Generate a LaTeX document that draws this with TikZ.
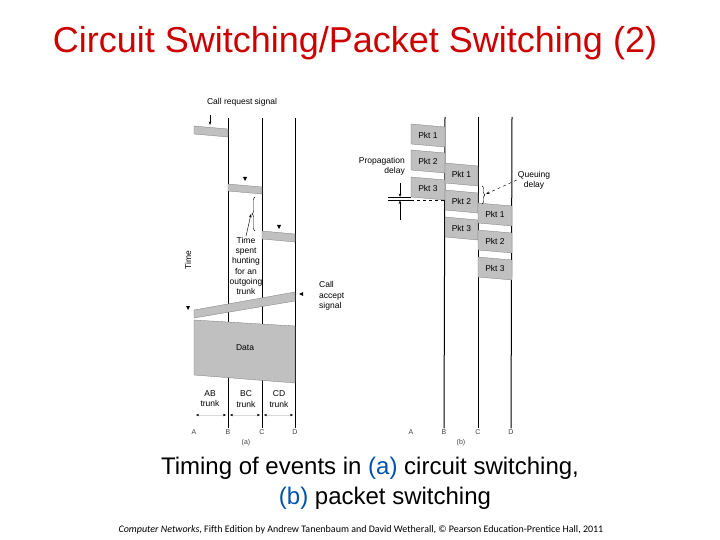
\documentclass[tikz,border=0pt]{standalone}
\usepackage{fontspec}
\setmainfont{Liberation Sans}
\newfontfamily\footfont{Carlito}
\usepackage{tikz}
\usetikzlibrary{arrows.meta, positioning, decorations.pathreplacing}
\definecolor{titlered}{RGB}{204,0,0}
\definecolor{capblue}{RGB}{0,82,170}
\definecolor{bandgray}{RGB}{192,192,192}
\definecolor{banddraw}{RGB}{120,120,120}

\begin{document}
\begin{tikzpicture}[
    x=1pt, y=-1pt,
    band/.style={fill=bandgray, draw=banddraw, line width=0.3pt},
    wire/.style={line width=1pt},
    lbl/.style={font=\fontsize{8.5}{10.2}\selectfont, inner sep=1pt, align=center},
    endlbl/.style={font=\fontsize{7}{8}\selectfont, inner sep=1pt, text=black!75},
    thin/.style={line width=0.45pt},
    span/.style={{Stealth[length=3pt,width=2.4pt,color=black]}-{Stealth[length=3pt,width=2.4pt,color=black]},
                 draw=black!15, line width=0.3pt, shorten <=2pt, shorten >=2pt},
    >={Stealth[length=3.5pt,width=2.6pt]}
]
\useasboundingbox (0,0) rectangle (720,540);
\fill[white] (0,0) rectangle (720,540);

%% Title
\node[font=\fontsize{36}{40}\selectfont, text=titlered] (title) at (355,43)
    {Circuit Switching/Packet Switching (2)};

%% (a) circuit switching: trunk lines
\node[endlbl] (aA) at (194,432) {A};
\node[endlbl] (aB) at (228,432) {B};
\node[endlbl] (aC) at (262,432) {C};
\node[endlbl] (aD) at (295,432) {D};
\node[endlbl] (acap) at (246,443) {(a)};
\coordinate (aBt) at (228,118);
\coordinate (aCt) at (262,118);
\coordinate (aDt) at (295,118);
\draw[wire] (aBt) -- (aB);
\draw[wire] (aCt) -- (aC);
\draw[wire] (aDt) -- (aD);

%% call request signal, hop by hop
\node[lbl] (callreq) at (242,102) {Call request signal};
\coordinate (crtail) at (210,115);
\coordinate (crtip) at (210,125);
\draw[thin, ->] (crtail) -- (crtip);
\draw[band] (194,126) -- (228,129) -- (228,137) -- (194,134) -- cycle;
\draw[band] (228,184) -- (262,187) -- (262,194) -- (228,191) -- cycle;
\draw[band] (262,231) -- (295,234) -- (295,242) -- (262,239) -- cycle;
\fill (243,177) -- (247,177) -- (245,181) -- cycle;
\fill (277,225) -- (281,225) -- (279,229) -- cycle;

%% time spent hunting
\draw[thin, decorate, decoration={brace, amplitude=3pt}] (255,231) -- (255,197);
\coordinate (huntip) at (251,214);
\node[lbl] (hunt) at (246,266) {Time\\spent\\hunting\\for an\\outgoing\\trunk};
\draw[thin, ->] (hunt.north) -- (huntip);
\node[lbl, rotate=90] (timelbl) at (188,260) {Time};

%% call accept signal
\draw[band] (194,310) -- (295,292) -- (295,301) -- (194,318) -- cycle;
\fill (186,306) -- (190,306) -- (188,310) -- cycle;
\fill (303,292) -- (303,296) -- (299,294) -- cycle;
\node[lbl, align=left, anchor=west] (callacc) at (318,296) {Call\\accept\\signal};

%% data
\draw[band] (194,320) -- (295,326) -- (295,383) -- (194,375) -- cycle;
\node[lbl] (data) at (245,348) {Data};

%% trunks
\node[lbl] (abtr) at (210,399) {AB\\trunk};
\node[lbl] (bctr) at (246,399) {BC\\trunk};
\node[lbl] (cdtr) at (279,399) {CD\\trunk};
\coordinate (ta) at (194,415);
\coordinate (tb) at (228,415);
\coordinate (tc) at (262,415);
\coordinate (td) at (295,415);
\draw[span] (ta) -- (tb);
\draw[span] (tb) -- (tc);
\draw[span] (tc) -- (td);

%% (b) packet switching: trunk lines
\node[endlbl] (bA) at (411,432) {A};
\node[endlbl] (bB) at (444,432) {B};
\node[endlbl] (bC) at (478,432) {C};
\node[endlbl] (bD) at (511,432) {D};
\node[endlbl] (bcap) at (461,443) {(b)};
\coordinate (bBt) at (445,117);
\coordinate (bCt) at (478,117);
\coordinate (bDt) at (512,117);
\draw[wire] (bBt) -- (bB);
\draw[wire] (bCt) -- (bC);
\draw[wire] (bDt) -- (bD);

%% packets on AB
\draw[band] (411,124) -- (445,127) -- (445,147) -- (411,144) -- cycle;
\node[lbl] (ab1) at (428,135.5) {Pkt 1};
\draw[band] (411,150) -- (445,153) -- (445,173) -- (411,170) -- cycle;
\node[lbl] (ab2) at (428,161.5) {Pkt 2};
\draw[band] (411,177) -- (445,180) -- (445,200) -- (411,197) -- cycle;
\node[lbl] (ab3) at (428,188.5) {Pkt 3};
%% packets on BC
\draw[band] (445,163) -- (478,166) -- (478,186) -- (445,183) -- cycle;
\node[lbl] (bc1) at (461.5,174.5) {Pkt 1};
\draw[band] (445,190) -- (478,193) -- (478,213) -- (445,210) -- cycle;
\node[lbl] (bc2) at (461.5,201.5) {Pkt 2};
\draw[band] (445,217) -- (478,220) -- (478,240) -- (445,237) -- cycle;
\node[lbl] (bc3) at (461.5,228.5) {Pkt 3};
%% packets on CD
\draw[band] (478,203) -- (512,206) -- (512,226) -- (478,223) -- cycle;
\node[lbl] (cd1) at (495,214.5) {Pkt 1};
\draw[band] (478,230) -- (512,233) -- (512,253) -- (478,250) -- cycle;
\node[lbl] (cd2) at (495,241.5) {Pkt 2};
\draw[band] (478,257) -- (512,260) -- (512,280) -- (478,277) -- cycle;
\node[lbl] (cd3) at (495,268.5) {Pkt 3};

%% propagation delay
\node[lbl, align=right, anchor=east] (propd) at (406,166) {Propagation\\delay};
\draw[thin] (388,197) -- (411,197);
\draw[thin] (388,200.5) -- (411,200.5);
\draw[thin, dashed] (411,200.5) -- (445,200.5);
\coordinate (pdt) at (400,183);
\coordinate (pdtip) at (400,197);
\coordinate (pdb) at (400,220);
\coordinate (pdbip) at (400,200.5);
\draw[thin, ->] (pdt) -- (pdtip);
\draw[thin, ->] (pdb) -- (pdbip);

%% queuing delay
\draw[thin, decorate, decoration={brace, amplitude=3pt}] (482,186) -- (482,204);
\coordinate (qtip) at (486,194);
\node[lbl] (queue) at (534,180) {Queuing\\delay};
\draw[thin, dashed, ->] (queue.west) -- (qtip);

%% caption and footer
\node[font=\fontsize{24}{28}\selectfont] (cap1) at (370,468)
    {Timing of events in \textcolor{capblue}{(a)} circuit switching,};
\node[font=\fontsize{24}{28}\selectfont] (cap2) at (385,498)
    {\textcolor{capblue}{(b)} packet switching};
\node[font=\footfont\fontsize{10}{11}\selectfont] (foot) at (361,530)
    {\textit{Computer Networks}, Fifth Edition by Andrew Tanenbaum and David Wetherall, © Pearson Education-Prentice Hall, 2011};
\end{tikzpicture}
\end{document}
